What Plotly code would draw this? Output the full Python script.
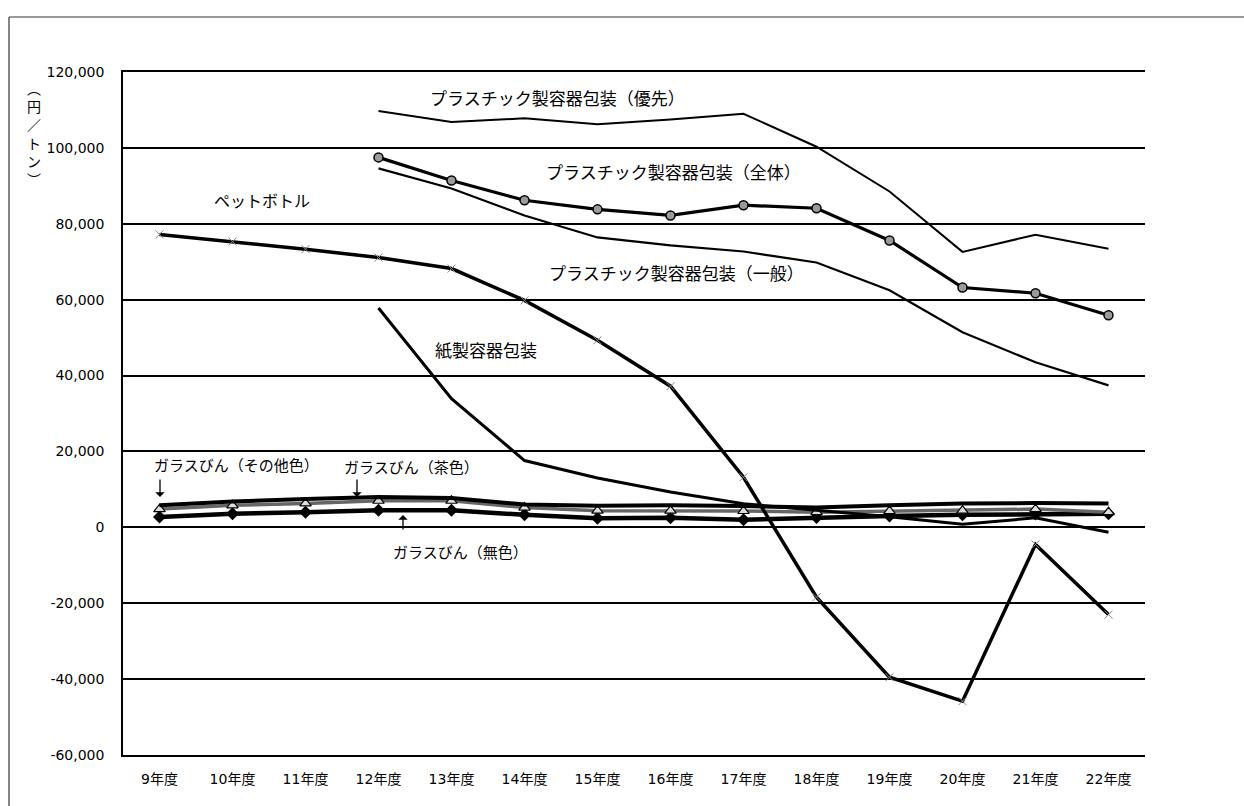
import plotly.graph_objects as go

years = ["9年度", "10年度", "11年度", "12年度", "13年度", "14年度", "15年度",
         "16年度", "17年度", "18年度", "19年度", "20年度", "21年度", "22年度"]

pet_bottle = [77200, 75300, 73300, 71100, 68200, 59800, 49300, 37200, 13200,
              -18400, -39500, -45800, -4500, -23000]
plastic_priority = [None, None, None, 109700, 106800, 107800, 106200, 107500,
                    109000, 100300, 88500, 72600, 77100, 73400]
plastic_overall = [None, None, None, 97500, 91400, 86200, 83800, 82200, 84900,
                   84100, 75600, 63200, 61700, 55900]
plastic_general = [None, None, None, 94600, 89300, 82200, 76400, 74300, 72700,
                   69800, 62500, 51400, 43500, 37400]
paper_container = [None, None, None, 57800, 33900, 17600, 13000, 9300, 6200,
                   4500, 2800, 800, 2500, -1300]
glass_other = [5800, 6800, 7500, 8000, 7700, 6000, 5700, 5800, 5600, 5200,
               5800, 6300, 6400, 6300]
glass_brown = [4800, 5800, 6300, 7000, 7000, 5200, 4400, 4400, 4300, 4000,
               4300, 4400, 4800, 4000]
glass_clear = [2700, 3600, 4000, 4500, 4500, 3300, 2400, 2500, 2000, 2600,
               3000, 3300, 3500, 3600]

y_tick_vals = [120000, 100000, 80000, 60000, 40000, 20000, 0,
               -20000, -40000, -60000]
y_tick_text = ["120,000", "100,000", "80,000", "60,000", "40,000", "20,000",
               "0", "-20,000", "-40,000", "-60,000"]

FONT = "Noto Sans CJK JP, Noto Sans, sans-serif"
TICKFONT = "DejaVu Sans, Noto Sans CJK JP, sans-serif"

fig = go.Figure()


def add(y, width, color="black", marker=None, name=""):
    fig.add_trace(go.Scatter(
        x=years, y=y, mode="lines+markers" if marker else "lines",
        line=dict(color=color, width=width),
        marker=marker, name=name, showlegend=False, connectgaps=False))


add(glass_clear, 4.5, marker=dict(symbol="diamond", size=10, color="black"),
    name="ガラスびん（無色）")
add(glass_brown, 3.5, color="#666666",
    marker=dict(symbol="triangle-up", size=10, color="#dddddd",
                line=dict(color="black", width=1.2)),
    name="ガラスびん（茶色）")
add(glass_other, 4, name="ガラスびん（その他色）")
add(paper_container, 3, name="紙製容器包装")
add(plastic_general, 2.2, name="プラスチック製容器包装（一般）")
add(plastic_priority, 2, name="プラスチック製容器包装（優先）")
add(plastic_overall, 3.2,
    marker=dict(symbol="circle", size=9, color="#9a9a9a",
                line=dict(color="black", width=1.5)),
    name="プラスチック製容器包装（全体）")
add(pet_bottle, 3.5,
    marker=dict(symbol="x-thin", size=8, color="#888888",
                line=dict(color="#888888", width=1)),
    name="ペットボトル")

# plot area in pixels
L, R, T, B = 123, 1145, 72, 755


def px(x):
    return (x - L) / (R - L)


def py(y):
    return (B - y) / (B - T)


labels = [
    ("プラスチック製容器包装（優先）", 557, 97, 17),
    ("プラスチック製容器包装（全体）", 673, 171, 17),
    ("ペットボトル", 262, 200, 16),
    ("プラスチック製容器包装（一般）", 676, 272, 17),
    ("紙製容器包装", 486, 350, 17),
    ("ガラスびん（その他色）", 236, 465, 15),
    ("ガラスびん（茶色）", 411, 466, 15),
    ("ガラスびん（無色）", 460, 551, 15),
]
annotations = []
for text, x, y, size in labels:
    annotations.append(dict(
        text=text, x=px(x), y=py(y), xref="paper", yref="paper",
        showarrow=False, xanchor="center", yanchor="middle",
        font=dict(family=FONT, size=size, color="black")))

# small pointer arrows (tip position, tail offset in px)
pointers = [(160, 497, -19), (357, 497, -19), (403, 515, 16)]
for x, y, ay in pointers:
    annotations.append(dict(
        text="", x=px(x), y=py(y), xref="paper", yref="paper",
        showarrow=True, ax=0, ay=ay, arrowhead=1, arrowsize=1.2,
        arrowwidth=1.3, arrowcolor="black"))

annotations.append(dict(
    text="︵<br>円<br>／<br>ト<br>ン<br>︶", x=px(34), y=py(133),
    xref="paper", yref="paper", showarrow=False,
    xanchor="center", yanchor="middle",
    font=dict(family="Noto Sans CJK JP", size=14, color="black")))

shapes = [
    dict(type="line", xref="paper", yref="paper",
         x0=px(9), x1=px(9), y0=py(17), y1=py(810),
         line=dict(color="#333333", width=1.2)),
    dict(type="line", xref="paper", yref="paper",
         x0=px(9), x1=px(1250), y0=py(17), y1=py(17),
         line=dict(color="#333333", width=1.2)),
]

fig.update_layout(
    width=1244, height=806,
    margin=dict(l=L, r=1244 - R, t=T, b=806 - B),
    paper_bgcolor="white", plot_bgcolor="white",
    font=dict(family=FONT, size=13, color="black"),
    annotations=annotations, shapes=shapes,
    xaxis=dict(range=[-0.5, 13.5], showgrid=False, zeroline=False,
               showline=True, mirror=True, linecolor="black", linewidth=1.5,
               ticks="", ticklabelstandoff=10,
               tickfont=dict(family=TICKFONT, size=14)),
    yaxis=dict(range=[-60000, 120000], tickvals=y_tick_vals,
               ticktext=y_tick_text, showgrid=True, gridcolor="black",
               gridwidth=1.5, zeroline=False, showline=True,
               linecolor="black", linewidth=1.5, ticks="",
               ticklabelstandoff=14,
               tickfont=dict(family=TICKFONT, size=14)),
)

fig.write_html("out.html")
